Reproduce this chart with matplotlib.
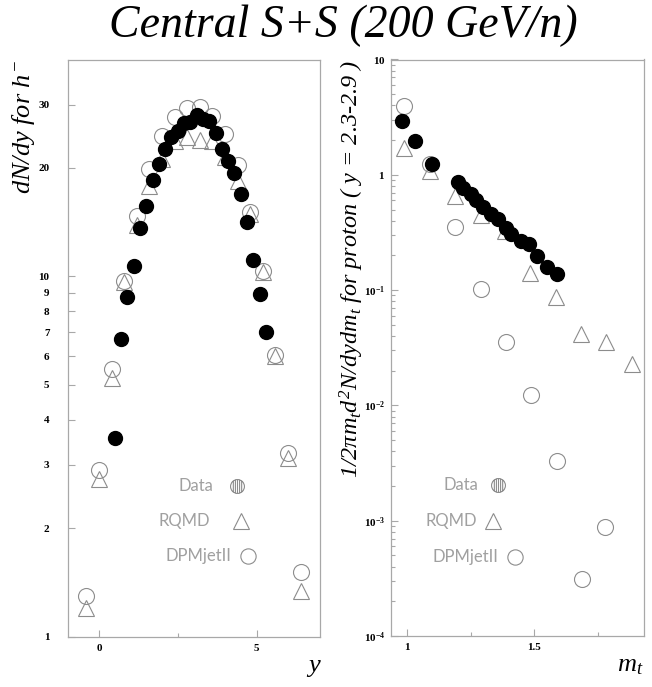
import numpy as np
import matplotlib
matplotlib.use('Agg')
import matplotlib.pyplot as plt
from matplotlib.path import Path
from matplotlib.ticker import FixedLocator, FixedFormatter, NullFormatter

plt.rcParams['mathtext.fontset'] = 'custom'
plt.rcParams['mathtext.rm'] = 'Liberation Serif:italic'
plt.rcParams['mathtext.it'] = 'Liberation Serif:italic'
plt.rcParams['mathtext.bf'] = 'Liberation Serif:bold'

# ---- left panel: dN/dy for h- vs rapidity ----
data_y = [0.5, 0.7, 0.9, 1.1, 1.3, 1.5, 1.7, 1.9, 2.1, 2.3, 2.5, 2.7, 2.9,
          3.1, 3.3, 3.5, 3.7, 3.9, 4.1, 4.3, 4.5, 4.7, 4.9, 5.1, 5.3]
data_dndy = [3.56, 6.7, 8.78, 10.66, 13.6, 15.65, 18.5, 20.5, 22.6, 24.4, 25.4,
             26.7, 26.85, 28.1, 27.4, 27.0, 25.0, 22.6, 20.96, 19.37, 16.97,
             14.19, 11.08, 8.93, 6.99]
model_y = [-0.4, 0.0, 0.4, 0.8, 1.2, 1.6, 2.0, 2.4, 2.8, 3.2, 3.6, 4.0, 4.4,
           4.8, 5.2, 5.6, 6.0, 6.4]
rqmd_dndy = [1.20, 2.74, 5.23, 9.62, 13.86, 17.8, 21.2, 23.7, 24.4, 23.97,
             23.7, 21.5, 18.4, 14.9, 10.3, 6.0, 3.13, 1.34]
dpm_dndy = [1.30, 2.90, 5.53, 9.71, 14.68, 19.88, 24.5, 27.7, 29.4, 29.55,
            27.9, 24.9, 20.4, 15.06, 10.32, 6.07, 3.24, 1.51]
left_yticks = [1, 2, 3, 4, 5, 6, 7, 8, 9, 10, 20, 30]
left_yticklabels = ['1', '2', '3', '4', '5', '6', '7', '8', '9', '10', '20', '30']
left_xticks = [0, 5]

# ---- right panel: proton mt spectrum ----
data_mt = [0.98, 1.03, 1.10, 1.20, 1.22, 1.25, 1.27, 1.30, 1.33, 1.36, 1.39,
           1.41, 1.45, 1.48, 1.51, 1.55, 1.59]
data_spec = [2.93, 1.96, 1.25, 0.861, 0.764, 0.677, 0.605, 0.529, 0.457, 0.411,
             0.348, 0.306, 0.265, 0.249, 0.199, 0.160, 0.139]
rqmd_mt = [0.99, 1.09, 1.19, 1.29, 1.385, 1.485, 1.585, 1.685, 1.785, 1.885]
rqmd_spec = [1.70, 1.07, 0.655, 0.448, 0.327, 0.1415, 0.0877, 0.0414, 0.0356, 0.0229]
dpm_mt = [0.99, 1.09, 1.19, 1.29, 1.39, 1.49, 1.59, 1.69, 1.78]
dpm_spec = [3.95, 1.24, 0.355, 0.102, 0.0352, 0.0124, 0.00332, 0.00031, 0.000877]
right_yticks = [1e-4, 1e-3, 1e-2, 1e-1, 1, 10]
right_yticklabels = [r'$\mathbf{10^{-4}}$', r'$\mathbf{10^{-3}}$', r'$\mathbf{10^{-2}}$',
                     r'$\mathbf{10^{-1}}$', r'$\mathbf{1}$', r'$\mathbf{10}$']
right_xticks = [1, 1.5]
right_xticklabels = ['1', '1.5']

legend_names = ['Data', 'RQMD', 'DPMjetII']

GRAY = '#8c8c8c'
FRAME = '#a8a8a8'

# hatched circle marker used for the "Data" legend entry
circ = Path.unit_circle()
chords = []
for xc in [-0.6, -0.3, 0.0, 0.3, 0.6]:
    h = np.sqrt(1 - xc ** 2)
    chords.append(Path([(xc, -h), (xc, h)], [Path.MOVETO, Path.LINETO]))
hatched_circle = Path.make_compound_path(circ, *chords)


def style_axes(ax):
    for s in ax.spines.values():
        s.set_color(FRAME)
        s.set_linewidth(0.9)
    ax.tick_params(which='both', direction='in', color=FRAME, width=0.8,
                   top=False, right=False)
    ax.tick_params(which='major', length=5)
    ax.tick_params(which='minor', length=3)
    for lab in ax.get_xticklabels() + ax.get_yticklabels():
        lab.set_fontfamily('Liberation Serif')
        lab.set_fontweight('bold')
        lab.set_fontsize(8)


def draw_legend(ax, text_x, marker_x, ys):
    markers = [(hatched_circle, 10), ('^', 12), ('o', 11)]
    for name, tx, mx, yy, (mk, ms) in zip(legend_names, text_x, marker_x, ys, markers):
        ax.text(tx, yy, name, transform=ax.transAxes, ha='right', va='center',
                fontsize=12, color='#a0a0a0', family=['Lato', 'DejaVu Sans'],
                fontweight='normal')
        ax.plot([mx], [yy], transform=ax.transAxes, marker=mk, ms=ms,
                mfc='none', mec=GRAY, mew=0.8, ls='none', clip_on=False)


fig = plt.figure(figsize=(6.52, 6.87), dpi=100)

fig.text(0.526, 0.963, 'Central S+S (200 GeV/n)', ha='center', va='center',
         fontsize=33, family='Liberation Serif', style='italic')

# left
ax1 = fig.add_axes([67.5 / 652, 1 - 636.7 / 687, 252 / 652, 577.2 / 687])
ax1.plot(model_y, dpm_dndy, 'o', ms=11.5, mfc='none', mec=GRAY, mew=0.8)
ax1.plot(model_y, rqmd_dndy, '^', ms=12, mfc='none', mec=GRAY, mew=0.8)
ax1.plot(data_y, data_dndy, 'o', ms=10, color='black')
ax1.set_yscale('log')
ax1.set_xlim(-1, 7)
ax1.set_ylim(1, 40)
ax1.yaxis.set_major_locator(FixedLocator(left_yticks))
ax1.yaxis.set_major_formatter(FixedFormatter(left_yticklabels))
ax1.yaxis.set_minor_locator(FixedLocator([]))
ax1.xaxis.set_major_locator(FixedLocator(left_xticks))
ax1.xaxis.set_minor_locator(FixedLocator([2.5]))
ax1.tick_params(axis='y', pad=13)
ax1.tick_params(axis='x', pad=5)
style_axes(ax1)
ax1.text(-0.175, 1.0, r'$dN/dy$ for $h^{-}$', transform=ax1.transAxes,
         rotation=90, ha='center', va='top', fontsize=19,
         family='Liberation Serif', style='italic')
ax1.text(1.0, -0.05, 'y', transform=ax1.transAxes, ha='right', va='center',
         fontsize=19, family='Liberation Serif', style='italic')
draw_legend(ax1, [0.577, 0.565, 0.649], [0.673, 0.690, 0.716],
            [0.261, 0.200, 0.139])

# right
ax2 = fig.add_axes([391 / 652, 1 - 636 / 687, 253 / 652, 576.5 / 687])
ax2.plot(dpm_mt, dpm_spec, 'o', ms=11.5, mfc='none', mec=GRAY, mew=0.8)
ax2.plot(rqmd_mt, rqmd_spec, '^', ms=12, mfc='none', mec=GRAY, mew=0.8)
ax2.plot(data_mt, data_spec, 'o', ms=10, color='black')
ax2.set_yscale('log')
ax2.set_xlim(0.937, 1.933)
ax2.set_ylim(1e-4, 10)
ax2.yaxis.set_major_locator(FixedLocator(right_yticks))
ax2.yaxis.set_major_formatter(FixedFormatter(right_yticklabels))
ax2.yaxis.set_minor_locator(FixedLocator(
    [m * 10.0 ** e for e in range(-4, 1) for m in range(2, 10)]))
ax2.yaxis.set_minor_formatter(NullFormatter())
ax2.xaxis.set_major_locator(FixedLocator(right_xticks))
ax2.xaxis.set_major_formatter(FixedFormatter(right_xticklabels))
ax2.xaxis.set_minor_locator(FixedLocator([1.25, 1.75]))
ax2.tick_params(axis='y', pad=4)
ax2.tick_params(axis='x', pad=5)
style_axes(ax2)
ax2.text(-0.155, 1.0,
         r'$1/2\pi m_t d^2N/dydm_t$ for proton ( y = 2.3-2.9 )',
         transform=ax2.transAxes, rotation=90, ha='center', va='top', fontsize=17.5,
         family='Liberation Serif', style='italic')
ax2.text(1.0, -0.05, r'$m_t$', transform=ax2.transAxes, ha='right', va='center',
         fontsize=19)
draw_legend(ax2, [0.344, 0.340, 0.423], [0.423, 0.405, 0.490],
            [0.262, 0.200, 0.137])

fig.savefig('out.png', dpi=100)
